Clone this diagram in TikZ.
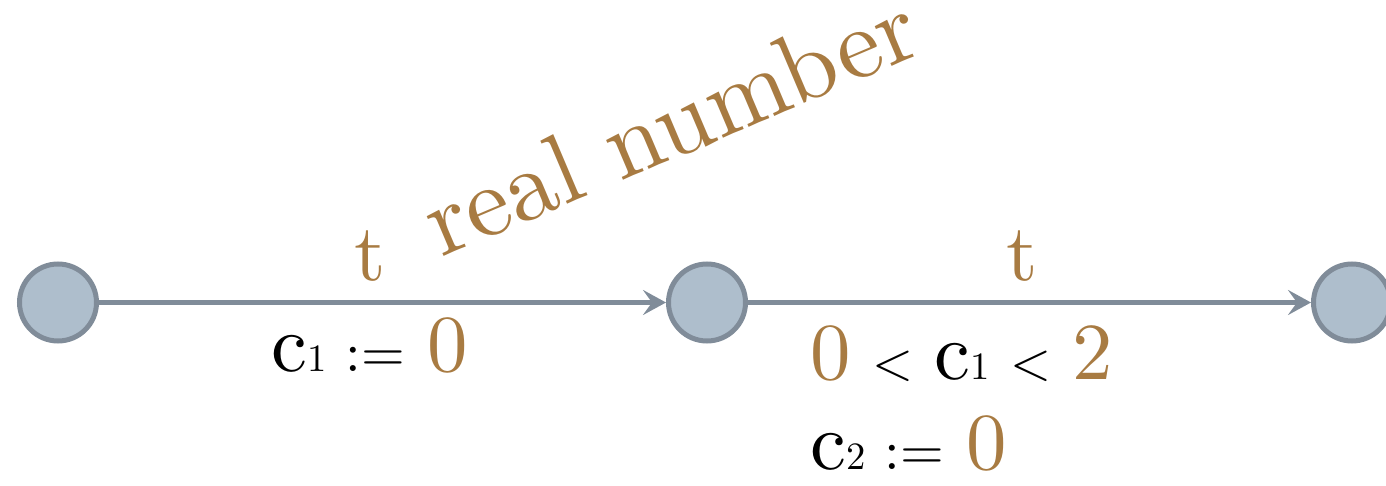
\documentclass[tikz,border=0pt]{standalone}
\usepackage{fontspec}
\setmainfont{lmroman10-regular}[Extension=.otf]
\usetikzlibrary{arrows.meta}
\definecolor{statefill}{RGB}{174,190,204}
\definecolor{stateline}{RGB}{128,140,153}
\definecolor{valcol}{RGB}{168,123,66}
\tikzset{
  state/.style={circle, draw=stateline, fill=statefill, line width=0.1cm, minimum size=1.54cm, inner sep=0},
  trans/.style={draw=stateline, line width=0.1cm, -{Stealth[length=0.46cm,width=0.5cm,inset=0.18cm]}},
  lbl/.style={font=\fontsize{46}{51}\selectfont, inner sep=0},
}
\newcommand{\val}[1]{\textcolor{valcol}{#1}}
\newcommand{\idx}[1]{{\fontsize{22}{24}\selectfont #1}}
\newcommand{\lessthan}{\hspace{0.42cm}{\fontsize{30}{32}\selectfont <}\hspace{0.42cm}}
\newcommand{\assign}{\hspace{0.38cm}{\fontsize{32}{36}\selectfont :=}\hspace{0.45cm}}
\begin{document}
\begin{tikzpicture}
    \useasboundingbox (0,0) rectangle (27.72,9.70);
    \node[state] (s0) at (1.16,3.65) {};
    \node[state] (s1) at (14.14,3.65) {};
    \node[state] (s2) at (27.04,3.65) {};
    \draw[trans] (s0) -- (s1)
        node[lbl, pos=0.478, above=0.38cm, text=valcol] (t1) {t}
        node[lbl, pos=0.478, below=0.26cm] (g1) {c\idx{1}\assign\val{0}};
    \draw[trans] (s1) -- (s2)
        node[lbl, pos=0.487, above=0.38cm, text=valcol] (t2) {t}
        node[lbl, pos=0.107, anchor=north west, yshift=-0.42cm, align=left] (g2) {\val{0}\lessthan c\idx{1}\lessthan\val{2}\\c\idx{2}\assign\val{0}};
    \node[lbl, font=\fontsize{57}{62}\selectfont, text=valcol, anchor=base west, rotate=23] (ty) at ([shift={(1.05,0.44)}]t1.base east) {real number};
    \end{tikzpicture}
\end{document}
